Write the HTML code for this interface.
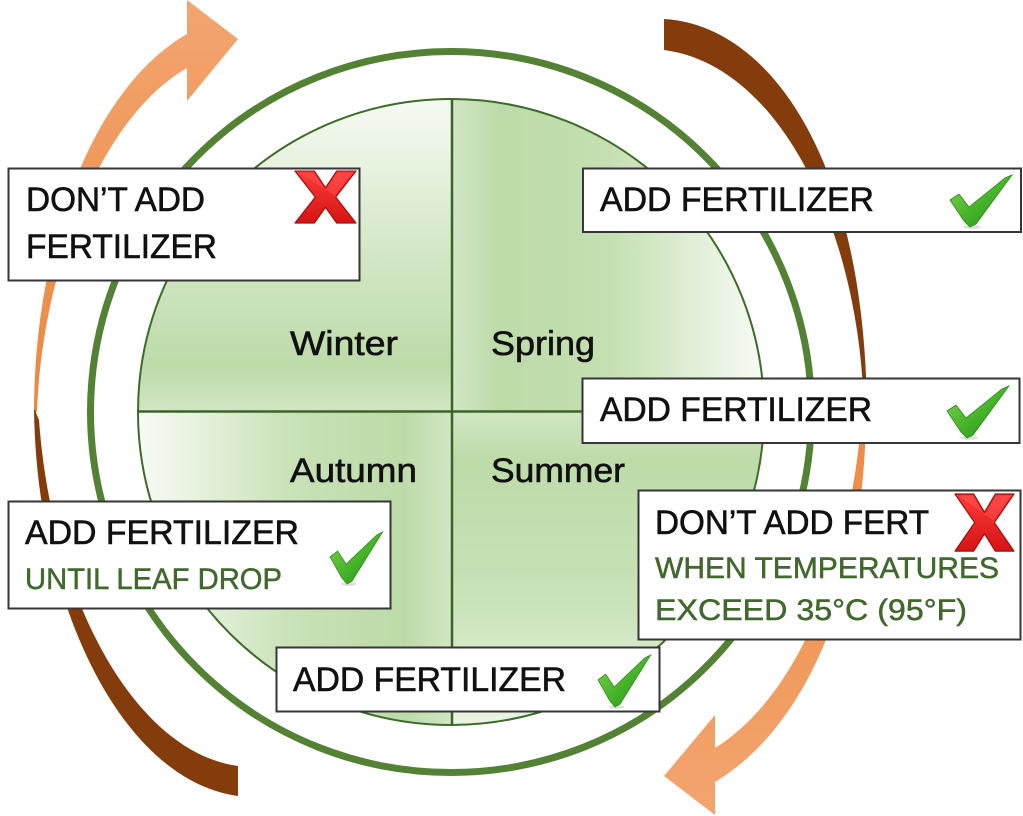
<!DOCTYPE html>
<html>
<head>
<meta charset="utf-8">
<style>
  html,body{margin:0;padding:0;background:#fff;}
  svg{display:block;}
  text{font-family:"Liberation Sans", sans-serif;}
</style>
</head>
<body>
<svg width="1023" height="816" viewBox="0 0 1023 816" xmlns="http://www.w3.org/2000/svg">
  <defs>
    <clipPath id="inner"><circle cx="451" cy="412" r="313"/></clipPath>
    <linearGradient id="gWinter" x1="0" y1="0" x2="0" y2="1">
      <stop offset="0" stop-color="#f6faf3"/>
      <stop offset="0.5" stop-color="#d3e7c6"/>
      <stop offset="0.85" stop-color="#bddba9"/>
      <stop offset="1" stop-color="#d2e6c5"/>
    </linearGradient>
    <linearGradient id="gSpring" x1="0" y1="0" x2="1" y2="0">
      <stop offset="0" stop-color="#d2e6c5"/>
      <stop offset="0.15" stop-color="#bddba9"/>
      <stop offset="0.5" stop-color="#c4dfb1"/>
      <stop offset="1" stop-color="#f8fbf6"/>
    </linearGradient>
    <linearGradient id="gAutumn" x1="0" y1="0" x2="1" y2="0">
      <stop offset="0" stop-color="#f8fbf6"/>
      <stop offset="0.5" stop-color="#c8e1b6"/>
      <stop offset="0.85" stop-color="#bddba9"/>
      <stop offset="1" stop-color="#d2e6c5"/>
    </linearGradient>
    <linearGradient id="gSummer" x1="0" y1="0" x2="0" y2="1">
      <stop offset="0" stop-color="#d2e6c5"/>
      <stop offset="0.15" stop-color="#bddba9"/>
      <stop offset="0.6" stop-color="#c9e2b8"/>
      <stop offset="1" stop-color="#eaf4e4"/>
    </linearGradient>
    <linearGradient id="gOrange1" x1="0" y1="1" x2="0" y2="0">
      <stop offset="0" stop-color="#eb8840"/>
      <stop offset="1" stop-color="#f3a570"/>
    </linearGradient>
    <linearGradient id="gOrange2" x1="0" y1="0" x2="0" y2="1">
      <stop offset="0" stop-color="#ec8a44"/>
      <stop offset="1" stop-color="#f3a56f"/>
    </linearGradient>
    <linearGradient id="gCheck" x1="0" y1="0" x2="1" y2="1">
      <stop offset="0" stop-color="#7fd64e"/>
      <stop offset="0.6" stop-color="#3fae25"/>
      <stop offset="1" stop-color="#2c8a1a"/>
    </linearGradient>
    <linearGradient id="gX" x1="0" y1="0" x2="0" y2="1">
      <stop offset="0" stop-color="#ff3a3a"/>
      <stop offset="1" stop-color="#d41414"/>
    </linearGradient>
    <g id="check">
      <ellipse cx="22" cy="52" rx="9" ry="2" fill="#000" opacity="0.12"/>
      <polygon points="0,25 9,19 19,32 55,3 62,0 26,49 20,52 14,46" fill="url(#gCheck)" stroke="#2b8a1a" stroke-width="0.8"/>
    </g>
    <g id="xmark">
      <polygon points="0,0 19,0 30,18 41,0 60,0 40,28 60,56 41,56 30,39 19,56 0,56 20,28" fill="url(#gX)" stroke="#a00d0d" stroke-width="1.2" stroke-linejoin="round"/>
      <polygon points="4,2 18,2 30,21 42,2 56,2 38,28 42,28" fill="#ff6060" opacity="0.35"/>
    </g>
  </defs>

  <!-- Arrows -->
  <path d="M 34,412 C 34,250 90,90 187,34 L 187,0 L 238,39 L 187,101 L 187,68 C 100,118 42,270 37,412 Z" fill="url(#gOrange1)"/>
  <path d="M 34,408 C 36,600 120,780 238,796 L 238,766 C 135,752 52,600 39,420 Z" fill="#843c0c"/>
  <path d="M 664,19 C 770,25 865,160 867,412 L 864,412 C 860,230 780,65 664,50 Z" fill="#843c0c"/>
  <path d="M 866,415 C 864,600 802,730 715,782 L 715,815 L 664,776 L 715,715 L 715,748 C 792,700 848,580 862,415 Z" fill="url(#gOrange2)"/>

  <!-- Outer green ring -->
  <circle cx="451" cy="412" r="360.5" fill="none" stroke="#548235" stroke-width="7"/>

  <!-- Inner circle quadrants -->
  <g clip-path="url(#inner)">
    <rect x="138" y="99" width="314" height="313" fill="url(#gWinter)"/>
    <rect x="452" y="99" width="313" height="313" fill="url(#gSpring)"/>
    <rect x="138" y="412" width="314" height="314" fill="url(#gAutumn)"/>
    <rect x="452" y="412" width="313" height="314" fill="url(#gSummer)"/>
  </g>
  <circle cx="451" cy="412" r="313" fill="none" stroke="#3e6b28" stroke-width="2"/>
  <line x1="452" y1="99" x2="452" y2="725" stroke="#3b6527" stroke-width="2.5"/>
  <line x1="138" y1="411.5" x2="764" y2="411.5" stroke="#3b6527" stroke-width="2.5"/>

  <!-- Season labels -->
  <g fill="#111" stroke="#111" stroke-width="0.6" font-size="34">
    <text x="290" y="355" textLength="108" lengthAdjust="spacingAndGlyphs">Winter</text>
    <text x="491" y="355" textLength="104" lengthAdjust="spacingAndGlyphs">Spring</text>
    <text x="290" y="482" textLength="127" lengthAdjust="spacingAndGlyphs">Autumn</text>
    <text x="491" y="482" textLength="134" lengthAdjust="spacingAndGlyphs">Summer</text>
  </g>

  <!-- Boxes -->
  <g fill="#fff" stroke="#363636" stroke-width="2">
    <rect x="8.5" y="168.5" width="351" height="112"/>
    <rect x="583" y="168.5" width="438" height="63.5"/>
    <rect x="582.5" y="378.5" width="437" height="64.5"/>
    <rect x="638.5" y="490.5" width="382" height="149"/>
    <rect x="8.5" y="501.5" width="382" height="107"/>
    <rect x="276.5" y="647.5" width="383" height="64"/>
  </g>

  <!-- Box text -->
  <g fill="#111" stroke="#111" stroke-width="0.6" font-size="34">
    <text x="26" y="211" textLength="179" lengthAdjust="spacingAndGlyphs">DON’T ADD</text>
    <text x="26" y="258" textLength="191" lengthAdjust="spacingAndGlyphs">FERTILIZER</text>
    <text x="600" y="211" textLength="274" lengthAdjust="spacingAndGlyphs">ADD FERTILIZER</text>
    <text x="600" y="421" textLength="272" lengthAdjust="spacingAndGlyphs">ADD FERTILIZER</text>
    <text x="655" y="534" textLength="274" lengthAdjust="spacingAndGlyphs">DON’T ADD FERT</text>
    <text x="25" y="544" textLength="274" lengthAdjust="spacingAndGlyphs">ADD FERTILIZER</text>
    <text x="293" y="691" textLength="273" lengthAdjust="spacingAndGlyphs">ADD FERTILIZER</text>
  </g>
  <g fill="#41682d" stroke="#41682d" stroke-width="0.5" font-size="30">
    <text x="655" y="578" textLength="344" lengthAdjust="spacingAndGlyphs">WHEN TEMPERATURES</text>
    <text x="655" y="620" textLength="312" lengthAdjust="spacingAndGlyphs">EXCEED 35°C (95°F)</text>
    <text x="25" y="589" textLength="257" lengthAdjust="spacingAndGlyphs">UNTIL LEAF DROP</text>
  </g>

  <!-- Icons -->
  <use href="#xmark" transform="translate(295,171) scale(1.017,0.93)"/>
  <use href="#xmark" transform="translate(955,494) scale(0.983,1.02)"/>
  <use href="#check" transform="translate(950,175)"/>
  <use href="#check" transform="translate(947,386)"/>
  <use href="#check" transform="translate(330,532) scale(0.85,1)"/>
  <use href="#check" transform="translate(598,655) scale(0.85,1)"/>
</svg>
</body>
</html>
